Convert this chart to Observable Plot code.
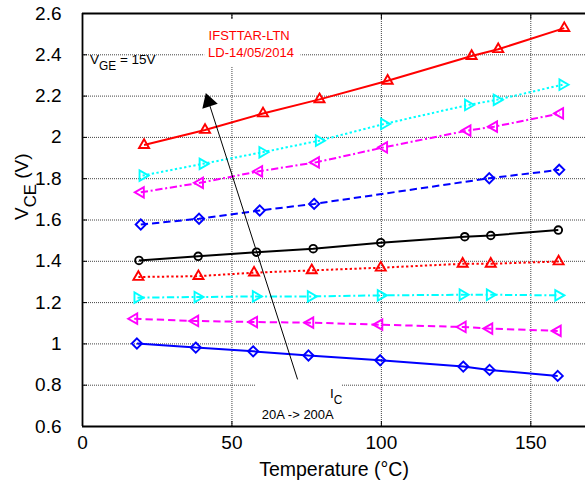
<!DOCTYPE html>
<html><head><meta charset="utf-8">
<script src="https://cdn.jsdelivr.net/npm/d3@7"></script>
<script src="https://cdn.jsdelivr.net/npm/@observablehq/plot@0.6"></script>
<style>
html,body{margin:0;padding:0;background:#fff;overflow:hidden}
</style>
</head><body><div id="chart"></div>
<script>
// ---- data (temperature °C, VCE V), bottom curve (20A) to top curve (200A)
const temp1 = [18.2, 37.9, 57.1, 75.6, 99.6, 127.4, 136.2, 159.0];
const vce1  = [1.002, 0.982, 0.964, 0.944, 0.921, 0.890, 0.874, 0.845];
const temp2 = [17.3, 37.7, 57.4, 76.2, 99.3, 127.2, 136.1, 159.0];
const vce2  = [1.122, 1.111, 1.106, 1.103, 1.093, 1.082, 1.074, 1.063];
const temp3 = [18.4, 38.5, 58.0, 76.4, 99.8, 127.2, 136.3, 159.2];
const vce3  = [1.224, 1.227, 1.230, 1.230, 1.235, 1.238, 1.238, 1.235];
const temp4 = [18.7, 38.8, 57.4, 76.7, 99.8, 127.2, 136.6, 159.3];
const vce4  = [1.324, 1.328, 1.345, 1.356, 1.369, 1.388, 1.388, 1.399];
const temp5 = [18.9, 38.7, 58.2, 77.2, 99.8, 127.9, 136.6, 159.2];
const vce5  = [1.404, 1.424, 1.444, 1.461, 1.490, 1.519, 1.525, 1.551];
const temp6 = [19.5, 39.0, 59.3, 77.5, 136.1, 159.5];
const vce6  = [1.578, 1.606, 1.646, 1.678, 1.802, 1.843];
const temp7 = [19.5, 39.3, 59.1, 78.1, 100.9, 128.8, 137.7, 159.8];
const vce7  = [1.734, 1.780, 1.836, 1.879, 1.952, 2.033, 2.052, 2.116];
const temp8 = [20.1, 40.2, 60.2, 79.1, 100.9, 129.0, 138.6, 160.6];
const vce8  = [1.815, 1.872, 1.928, 1.984, 2.065, 2.157, 2.182, 2.255];
const temp9 = [20.6, 41.0, 60.4, 79.3, 102.1, 130.2, 139.1, 161.2];
const vce9  = [1.963, 2.036, 2.116, 2.184, 2.274, 2.394, 2.427, 2.529];

const xTicks = [0, 50, 100, 150];
const yTicks = [0.6, 0.8, 1, 1.2, 1.4, 1.6, 1.8, 2, 2.2, 2.4, 2.6];
const xLabel = "Temperature (°C)";
const yLabel = "V_{CE} (V)";

// annotations (data coordinates)
const blackNotes = ["V_{GE} = 15V", "I_{C}", "20A -> 200A"];
const blackNoteT = [2.5, 82.8, 60.0];
const blackNoteV = [2.378, 0.759, 0.656];
const blackNoteSize = [13.5, 13.5, 13];
const redNotes = ["IFSTTAR-LTN", "LD-14/05/2014"];
const redNoteT = [42.2, 42.0];
const redNoteV = [2.491, 2.408];
const arrowTail = [71.96, 0.828];
const arrowHead = [42.2, 2.172];
// white label boxes hiding the grid
const boxT1 = [40.9, 58.0], boxT2 = [73.1, 86.8];
const boxV1 = [2.343, 0.6], boxV2 = [2.574, 0.834];

// ---- styles
const temps = [temp1, temp2, temp3, temp4, temp5, temp6, temp7, temp8, temp9];
const vces  = [vce1, vce2, vce3, vce4, vce5, vce6, vce7, vce8, vce9];
const colors = ["#0000ff","#ff00ff","#00ffff","#ff0000","#000000","#0000ff","#ff00ff","#00ffff","#ff0000"];
const dashes = [null, "7.3,4", "7.3,2.7,2,2.7", "2.3,2.4", null, "7.3,4", "7.3,2.7,2,2.7", "2.3,2.4", null];
const symbols = ["diamond2","triangle2","triangle2","triangle2","circle","diamond2","triangle2","triangle2","triangle2"];
const rotations = [0, -90, 90, 0, 0, 0, -90, 90, 0];
const sizes = [4.6, 5, 5, 4.8, 3.8, 4.6, 5, 5, 4.8];

const seriesMarks = [];
temps.forEach((T, i) => {
  const rows = T.map((t, j) => ({T: t, V: vces[i][j]}));
  seriesMarks.push(Plot.line(rows, {x: "T", y: "V", stroke: colors[i], strokeWidth: 2,
    strokeDasharray: dashes[i] ?? undefined, strokeLinecap: "butt", strokeLinejoin: "miter"}));
  seriesMarks.push(Plot.dot(rows, {x: "T", y: "V", symbol: symbols[i], r: sizes[i], rotate: rotations[i],
    stroke: colors[i], strokeWidth: 1.9, fill: "none"}));
});

const font = "'Liberation Sans', Arial, Helvetica, sans-serif";
const gridStyle = {stroke: "#444", strokeOpacity: 1, strokeWidth: 1, strokeDasharray: "1,1"};

const svg = Plot.plot({
  width: 585, height: 485,
  marginLeft: 82, marginRight: 0, marginTop: 13, marginBottom: 59,
  style: {fontFamily: font, fontSize: "18px", background: "white", color: "black", overflow: "visible"},
  x: {domain: [0, 168.3]},
  y: {domain: [0.6, 2.6]},
  marks: [
    Plot.gridX(xTicks, gridStyle),
    Plot.gridY(yTicks, gridStyle),
    Plot.rect([0, 1], {x1: i => boxT1[i], x2: i => boxT2[i], y1: i => boxV1[i], y2: i => boxV2[i], fill: "white"}),
    Plot.axisX(xTicks, {anchor: "bottom", tickSize: -5, tickPadding: 14, label: null, fontSize: 19}),
    Plot.axisX(xTicks, {anchor: "top", tickSize: -5, tickFormat: () => "", label: null}),
    Plot.axisY(yTicks, {anchor: "left", tickSize: -5, tickPadding: 26, tickFormat: d => String(d), label: null, fontSize: 19}),
    Plot.ruleX([0], {stroke: "black", strokeWidth: 1.8}),
    Plot.ruleY([0.6, 2.6], {stroke: "black", strokeWidth: 1.8}),
    ...seriesMarks,
    Plot.link([0], {x1: () => arrowTail[0], y1: () => arrowTail[1], x2: () => arrowHead[0], y2: () => arrowHead[1], stroke: "black", strokeWidth: 1}),
    Plot.dot([0], {x: () => arrowHead[0], y: () => arrowHead[1], symbol: "triangle", r: 6, rotate: -17.7, fill: "black", stroke: "none"}),
    Plot.text(blackNotes, {x: (d, i) => blackNoteT[i], y: (d, i) => blackNoteV[i], text: d => d, fontSize: (d, i) => blackNoteSize[i],
      textAnchor: "start", lineAnchor: "middle", fill: "black"}),
    Plot.text(redNotes, {x: (d, i) => redNoteT[i], y: (d, i) => redNoteV[i], text: d => d, fontSize: 13,
      textAnchor: "start", lineAnchor: "middle", fill: "#ff0000"}),
    Plot.text([xLabel], {frameAnchor: "bottom", text: d => d, dy: 43, fontSize: 19.5, lineAnchor: "middle", fill: "black"}),
    Plot.text([yLabel], {frameAnchor: "left", text: d => d, dx: -61, rotate: -90, fontSize: 19, lineAnchor: "middle", fill: "black"})
  ]
});
document.getElementById("chart").appendChild(svg);

// render TeX-like subscripts "_{...}" as real tspans
svg.querySelectorAll("text").forEach(t => {
  const s = t.textContent;
  if (!s.includes("_{")) return;
  const fs = parseFloat(getComputedStyle(t).fontSize) || 13;
  const shift = fs * 0.45;
  const parts = s.split(/(_\{[^}]*\})/).filter(p => p.length);
  while (t.firstChild) t.removeChild(t.firstChild);
  let down = false;
  parts.forEach(p => {
    const ts = document.createElementNS("http://www.w3.org/2000/svg", "tspan");
    if (p.startsWith("_{")) {
      ts.textContent = p.slice(2, -1);
      ts.setAttribute("font-size", (fs * 0.88) + "px");
      ts.setAttribute("dy", shift + "px");
      down = true;
    } else {
      ts.textContent = p;
      if (down) { ts.setAttribute("dy", (-shift) + "px"); down = false; }
    }
    t.appendChild(ts);
  });
});
</script>
</body></html>
